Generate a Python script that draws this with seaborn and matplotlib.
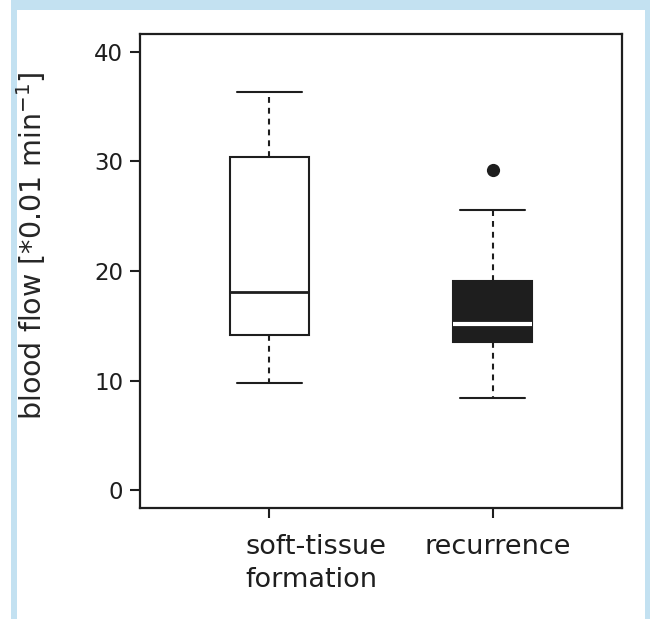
import numpy as np
import pandas as pd
import matplotlib.pyplot as plt
import matplotlib.patches as mpatches
import matplotlib.transforms as mtransforms
import seaborn as sns

# five-number summaries (whisker low, Q1, median, Q3, whisker high)
groups = ['soft-tissue\nformation', 'recurrence']
soft_tissue = [9.8, 14.2, 18.1, 30.4, 36.3]
recurrence = [8.4, 13.5, 15.2, 19.1, 25.6]
recurrence_outliers = [29.2]
y_ticks = [0, 10, 20, 30, 40]

df = pd.DataFrame({
    'group': [groups[0]] * len(soft_tissue) + [groups[1]] * len(recurrence),
    'flow': soft_tissue + recurrence,
})
out = pd.DataFrame({'group': [groups[1]] * len(recurrence_outliers),
                    'flow': recurrence_outliers})

sns.set_style('ticks')
plt.rcParams['font.family'] = ['DejaVu Sans']

ink = '#1e1e1e'
fig = plt.figure(figsize=(6.5, 6.19), dpi=100)

# light blue frame round the panel
W, H = 650, 619
fig.patches.append(mpatches.Rectangle((11 / W, 0), 1 - 11 / W, 1, transform=fig.transFigure,
                                      facecolor='#c3e1f1', edgecolor='none', zorder=-10))
fig.patches.append(mpatches.Rectangle((17 / W, 0), (645 - 17) / W, (619 - 10) / H,
                                      transform=fig.transFigure,
                                      facecolor='white', edgecolor='none', zorder=-9))

ax = fig.add_axes([140 / W, 1 - 508 / H, (622 - 140) / W, (508 - 34) / H])
ax.set_facecolor('white')

sns.boxplot(data=df, x='group', y='flow', hue='group', order=groups, hue_order=groups,
            palette={groups[0]: 'white', groups[1]: ink}, legend=False,
            width=0.355, whis=(0, 100), linecolor=ink, linewidth=1.5,
            capwidths=0.29,
            whiskerprops=dict(linestyle=(0, (2.8, 2.4))),
            medianprops=dict(linewidth=2.0), ax=ax)

sns.stripplot(data=out, x='group', y='flow', order=groups, jitter=False,
              color=ink, size=9.5, ax=ax)

# recurrence median drawn white on the dark box
rec_box = ax.containers[1]
for m in rec_box.medians:
    m.set_color('white')
    m.set_linewidth(3.0)

ax.set_xlim(-0.58, 1.58)
ax.set_ylim(-1.6, 41.6)
ax.set_yticks(y_ticks)
ax.set_xticks([0, 1])
ax.set_xticklabels(groups)
ax.set_xlabel('')
ax.set_ylabel('blood flow [*0.01 min$^{-1}$]', fontsize=20.5)
ax.yaxis.set_label_coords(-0.19, 0.553)

for s in ax.spines.values():
    s.set_visible(True)
    s.set_linewidth(1.6)
    s.set_color(ink)

ax.tick_params(axis='y', length=7.5, width=1.5, pad=4.5, labelsize=16.5, colors=ink)
ax.tick_params(axis='x', length=7.5, width=1.5, pad=11, labelsize=19.5, colors=ink)

labs = ax.get_xticklabels()
labs[0].set_ha('left')
labs[0].set_multialignment('left')
labs[0].set_transform(labs[0].get_transform() +
                      mtransforms.ScaledTranslation(-24 / 100, 0, fig.dpi_scale_trans))
labs[1].set_transform(labs[1].get_transform() +
                      mtransforms.ScaledTranslation(5 / 100, 0, fig.dpi_scale_trans))
for lab in labs:
    lab.set_linespacing(1.35)

fig.savefig('out.png', dpi=100)
